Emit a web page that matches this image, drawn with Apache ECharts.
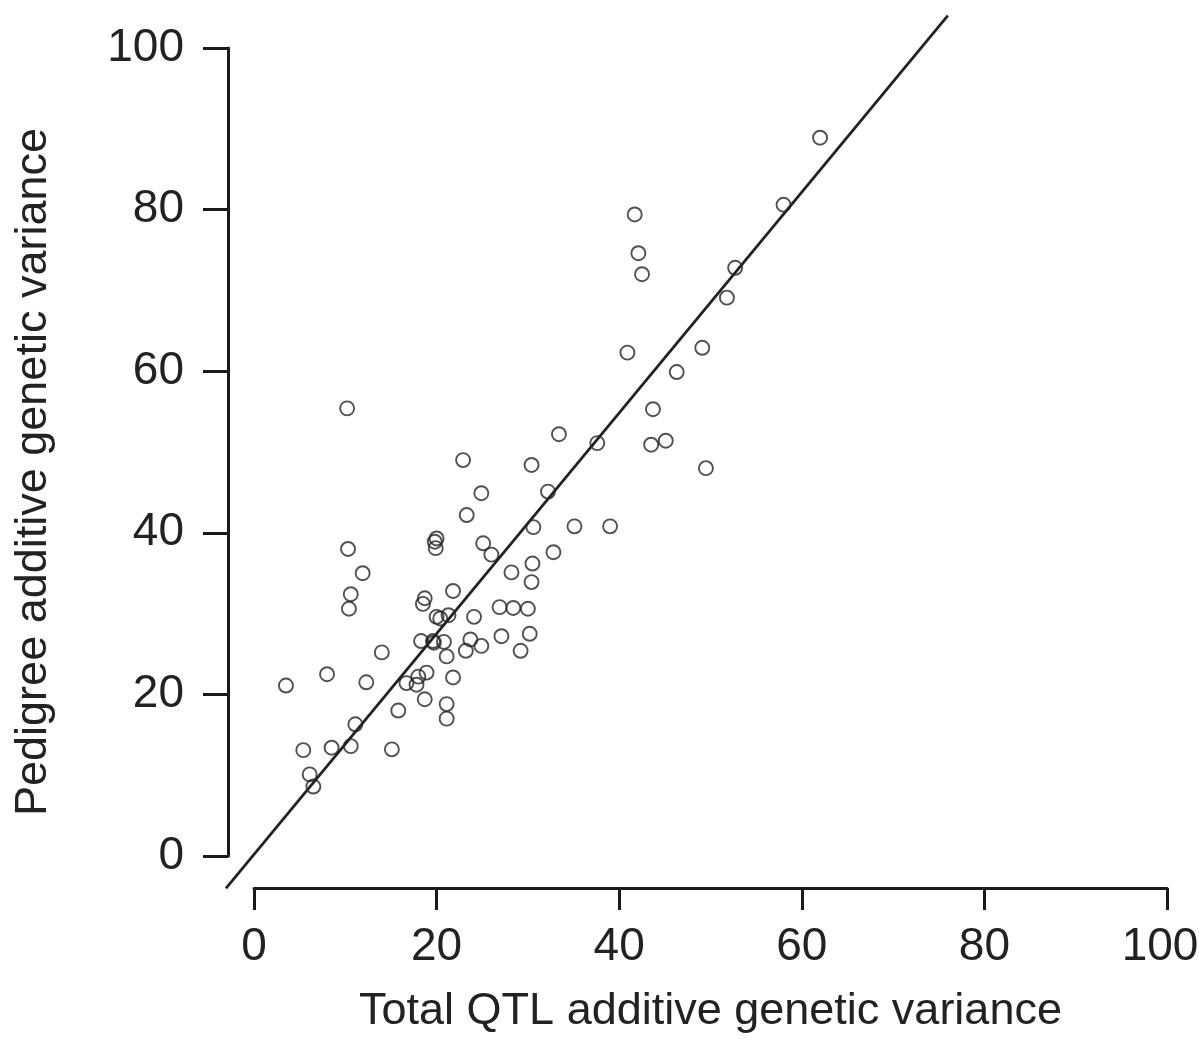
<!DOCTYPE html>
<html>
<head>
<meta charset="utf-8">
<script src="https://cdn.jsdelivr.net/npm/echarts@6/dist/echarts.min.js"></script>
<style>
html,body{margin:0;padding:0;background:#fff;}
#chart{width:1199px;height:1040px;}
</style>
</head>
<body>
<div id="chart"></div>
<script>
// Total QTL additive genetic variance (x)
const qtlVar = [
  62.0, 58.0, 41.7, 42.1, 42.5, 52.7, 51.8, 40.9, 49.1, 46.3,
  10.2, 43.7, 33.4, 37.6, 43.5, 45.1, 49.5, 22.9, 30.4, 24.9,
  32.2, 23.3, 35.1, 39.0, 30.6, 20.0, 19.8, 19.9, 25.1, 26.0,
  32.8, 30.5, 10.3, 11.9, 28.2, 30.4, 10.6, 10.4, 21.8, 18.7,
  18.5, 26.9, 28.4, 30.0, 20.0, 21.3, 24.1, 18.3, 19.6, 20.8,
  23.7, 23.2, 24.9, 27.1, 30.2, 29.2, 21.1, 14.0, 8.0, 3.5,
  12.3, 16.7, 18.0, 18.9, 17.8, 21.8, 18.7, 21.1, 21.1, 15.8,
  11.1, 5.4, 8.5, 10.6, 15.1, 6.1, 6.5, 19.7, 20.4
];
// Pedigree additive genetic variance (y)
const pedVar = [
  88.9, 80.6, 79.4, 74.6, 72.0, 72.8, 69.1, 62.3, 62.9, 59.9,
  55.4, 55.3, 52.2, 51.1, 50.9, 51.4, 48.0, 49.0, 48.4, 44.9,
  45.1, 42.2, 40.8, 40.8, 40.7, 39.3, 38.9, 38.1, 38.7, 37.3,
  37.6, 36.2, 38.0, 35.0, 35.1, 33.9, 32.4, 30.6, 32.8, 31.9,
  31.2, 30.8, 30.7, 30.6, 29.6, 29.8, 29.6, 26.6, 26.6, 26.5,
  26.8, 25.4, 26.0, 27.2, 27.5, 25.4, 24.7, 25.2, 22.5, 21.1,
  21.5, 21.4, 22.2, 22.7, 21.2, 22.1, 19.4, 18.8, 17.0, 18.0,
  16.3, 13.1, 13.4, 13.6, 13.2, 10.1, 8.6, 26.4, 29.4
];
// Fitted line y = intercept + slope * x
const fitIntercept = 0.2;
const fitSlope = 1.366;
// Plot region limits (R-style 4% extension of 0..100)
const regionLo = -4;
const regionHiY = 104;
const regionHiX = 103.5;
const xTicks = [0, 20, 40, 60, 80, 100];
const yTicks = [0, 20, 40, 60, 80, 100];

const points = qtlVar.map((x, i) => [x, pedVar[i]]);
const xStart = (regionLo - fitIntercept) / fitSlope;
const xEnd = (regionHiY - fitIntercept) / fitSlope;
const fitLine = [[xStart, fitIntercept + fitSlope * xStart], [xEnd, fitIntercept + fitSlope * xEnd]];

const FONT = 'Liberation Sans, Arial, Helvetica, sans-serif';
const TXT = '#222';
const AX = '#1a1a1a';

// axis grid: 0..100 maps to x 254..1167, y 856..48
const axL = 254, axR = 1167, axT = 48, axB = 856;
const pxX = (axR - axL) / 100, pxY = (axB - axT) / 100;

const chart = echarts.init(document.getElementById('chart'), null, {renderer: 'canvas'});
chart.setOption({
  animation: false,
  backgroundColor: '#fff',
  grid: [
    {left: axL, right: 1199 - axR, top: axT, bottom: 1040 - axB, containLabel: false, outerBoundsMode: 'none'},
    {
      left: axL + regionLo * pxX,
      right: 1199 - (axL + regionHiX * pxX),
      top: axT - (regionHiY - 100) * pxY,
      bottom: 1040 - (axB - regionLo * pxY),
      containLabel: false,
      outerBoundsMode: 'none'
    }
  ],
  xAxis: [
    {
      gridIndex: 0,
      type: 'value', min: xTicks[0], max: xTicks[xTicks.length - 1], interval: 20,
      offset: 32,
      name: 'Total QTL additive genetic variance',
      nameLocation: 'middle', nameGap: 101,
      nameTextStyle: {fontFamily: FONT, fontSize: 45, color: TXT},
      axisLine: {show: true, onZero: false, lineStyle: {color: AX, width: 3}},
      axisTick: {show: true, length: 22, lineStyle: {color: AX, width: 3}},
      axisLabel: {
        margin: 36, fontFamily: FONT, fontSize: 46, color: TXT,
        formatter: function (v) {
          return v === xTicks[xTicks.length - 1] ? '{edge|' + v + '}' : String(v);
        },
        rich: {edge: {fontFamily: FONT, fontSize: 46, color: TXT, padding: [0, 14, 0, 0]}}
      },
      splitLine: {show: false}
    },
    {
      gridIndex: 1, type: 'value', min: regionLo, max: regionHiX,
      show: false, splitLine: {show: false}
    }
  ],
  yAxis: [
    {
      gridIndex: 0,
      type: 'value', min: yTicks[0], max: yTicks[yTicks.length - 1], interval: 20,
      offset: 26,
      name: 'Pedigree additive genetic variance',
      nameLocation: 'middle', nameGap: 172, nameRotate: 90,
      nameTextStyle: {fontFamily: FONT, fontSize: 45, color: TXT, padding: [0, 40, 0, 0]},
      axisLine: {show: true, onZero: false, lineStyle: {color: AX, width: 3}},
      axisTick: {show: true, length: 25, lineStyle: {color: AX, width: 3}},
      axisLabel: {margin: 44, fontFamily: FONT, fontSize: 46, color: TXT},
      splitLine: {show: false}
    },
    {
      gridIndex: 1, type: 'value', min: regionLo, max: regionHiY,
      show: false, splitLine: {show: false}
    }
  ],
  series: [
    {
      type: 'scatter',
      xAxisIndex: 1, yAxisIndex: 1,
      data: points,
      symbol: 'circle',
      symbolSize: 14,
      itemStyle: {color: 'rgba(0,0,0,0)', borderColor: '#262626', borderWidth: 1.9},
      z: 3
    },
    {
      type: 'line',
      xAxisIndex: 1, yAxisIndex: 1,
      data: fitLine,
      showSymbol: false,
      symbol: 'none',
      lineStyle: {color: '#222', width: 2.8},
      z: 2
    }
  ]
});
</script>
</body>
</html>
